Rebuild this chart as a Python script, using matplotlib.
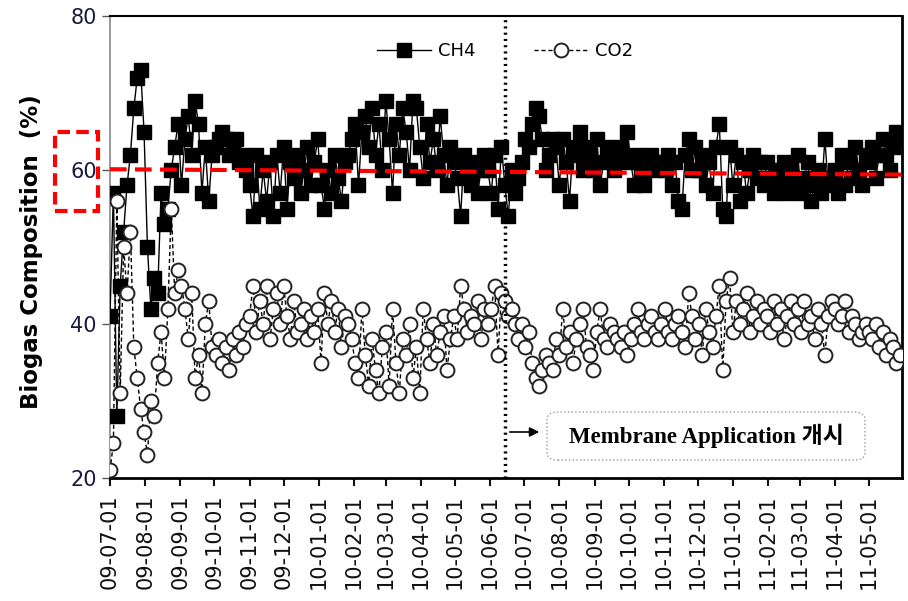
import numpy as np
import pandas as pd
import matplotlib
matplotlib.use("Agg")
import matplotlib.pyplot as plt
import matplotlib.dates as mdates
from matplotlib.patches import FancyBboxPatch, Rectangle

# sampling every 3 days from 2009-07-01
dates = pd.date_range("2009-07-01", periods=233, freq="3D")

# CH4 (%), month by month
ch4 = [
    41, 57, 28, 45, 52, 58, 62, 68, 72, 73,          # 09-07
    65, 50, 42, 46, 44, 57, 53, 55, 60, 63, 66,      # 09-08
    58, 64, 67, 62, 69, 66, 57, 63, 56, 62,          # 09-09
    63, 64, 65, 64, 62, 63, 64, 61, 62, 60,          # 09-10
    58, 54, 62, 55, 60, 56, 61, 54, 62, 57,          # 09-11
    63, 55, 61, 59, 62, 57, 60, 63, 58, 61,          # 09-12
    64, 58, 55, 60, 57, 62, 59, 56, 61, 62,          # 10-01
    64, 66, 58, 65, 67, 63, 68, 62, 66, 60,          # 10-02
    69, 64, 57, 66, 62, 68, 65, 60, 69,              # 10-03
    68, 63, 59, 66, 61, 64, 60, 67, 62, 58, 63,      # 10-04
    61, 59, 54, 62, 60, 58, 61, 57, 60, 62,          # 10-05
    60, 57, 62, 55, 63, 58, 54, 60, 57, 59,          # 10-06
    61, 64, 63, 66, 68, 67, 64, 60, 62, 64,          # 10-07
    63, 58, 64, 61, 56, 63, 62, 65, 60, 63,          # 10-08
    62, 60, 64, 58, 61, 63, 62, 60, 61, 63, 62,      # 10-09
    65, 61, 58, 62, 60, 58, 61, 62, 60, 61,          # 10-10
    61, 60, 62, 58, 61, 56, 55, 62, 64, 60,          # 10-11
    63, 60, 62, 58, 61, 57, 63, 66, 55, 54,          # 10-12
    63, 58, 62, 56, 61, 57, 60, 62, 59, 61, 58,      # 11-01
    61, 59, 57, 60, 58, 61, 57, 60, 58,              # 11-02
    62, 57, 59, 61, 56, 58, 60, 57, 64, 58, 59,      # 11-03
    60, 57, 62, 58, 61, 59, 63, 60, 58, 62,          # 11-04
    61, 63, 59, 62, 64, 62, 60, 63, 65, 64,          # 11-05
]

# CO2 (%), month by month
co2 = [
    21, 24.5, 56, 31, 50, 44, 52, 37, 33, 29,        # 09-07
    26, 23, 30, 28, 35, 39, 33, 42, 55, 44, 47,      # 09-08
    45, 42, 38, 44, 33, 36, 31, 40, 43, 37,          # 09-09
    36, 38, 35, 37, 34, 38, 36, 39, 37, 40,          # 09-10
    41, 45, 39, 43, 40, 45, 38, 42, 44, 40,          # 09-11
    45, 41, 38, 43, 39, 40, 42, 38, 41, 39,          # 09-12
    42, 35, 44, 40, 43, 39, 42, 37, 41, 40,          # 10-01
    38, 35, 33, 42, 36, 32, 38, 34, 31, 37,          # 10-02
    39, 32, 42, 35, 31, 38, 36, 40, 33,              # 10-03
    37, 31, 42, 38, 35, 40, 36, 39, 41, 34, 38,      # 10-04
    41, 38, 45, 42, 39, 41, 40, 43, 38, 42,          # 10-05
    40, 42, 45, 36, 44, 43, 41, 42, 40, 38,          # 10-06
    40, 37, 39, 35, 33, 32, 34, 36, 35, 34,          # 10-07
    38, 36, 42, 37, 39, 35, 38, 40, 42, 37,          # 10-08
    36, 34, 39, 42, 38, 37, 40, 39, 38, 37, 39,      # 10-09
    36, 38, 40, 42, 39, 38, 40, 41, 39, 38,          # 10-10
    40, 42, 39, 38, 40, 41, 39, 37, 44, 41,          # 10-11
    38, 40, 36, 42, 39, 37, 41, 45, 34, 43,          # 10-12
    46, 39, 43, 40, 42, 44, 39, 41, 43, 40, 42,      # 11-01
    41, 39, 43, 40, 42, 38, 41, 43, 40,              # 11-02
    42, 39, 43, 40, 41, 38, 42, 40, 36, 41, 43,      # 11-03
    42, 40, 41, 43, 39, 41, 40, 38, 39, 40,          # 11-04
    39, 38, 40, 37, 39, 36, 38, 37, 35, 36,          # 11-05
]

membrane_date = pd.Timestamp("2010-06-14")
ref_start, ref_end = 60.1, 59.4

fig = plt.figure(figsize=(9.08, 6.01), dpi=100)
ax = fig.add_axes([110 / 908, 1 - 478 / 601, 792 / 908, 462 / 601])

ax.plot(dates, ch4, color="black", lw=1, marker="s", ms=10.5,
        mfc="black", mec="black", label="CH4", zorder=3)
ax.plot(dates, co2, color="black", lw=1, ls=(0, (3, 2)), marker="o", ms=10,
        mfc="white", mec="#222222", mew=1.4, label="CO2", zorder=4)

x0, x1 = pd.Timestamp("2009-07-01"), pd.Timestamp("2011-05-30")
ax.plot([x0, x1], [ref_start, ref_end], color="red", lw=3, ls=(0, (4, 2)), zorder=5)
ax.axvline(membrane_date, color="black", lw=2.5, ls=(0, (0.6, 1.2)), zorder=6)

ax.set_xlim(x0, x1)
ax.set_ylim(20, 80)
ax.set_yticks([20, 40, 60, 80])
ax.xaxis.set_major_locator(mdates.MonthLocator())
ax.xaxis.set_major_formatter(mdates.DateFormatter("%y-%m-%d"))
ax.tick_params(axis="x", rotation=90, labelsize=15, length=6, width=1.5,
               direction="out", colors="#111111", pad=6)
ax.tick_params(axis="y", labelsize=15, length=6, width=1, direction="out",
               labelcolor="#1a1a40", color="#555555")

ax.spines["left"].set_color("#888888")
ax.spines["left"].set_linewidth(1.2)
ax.spines["bottom"].set_linewidth(2)
ax.spines["top"].set_linewidth(1.5)
ax.spines["right"].set_linewidth(2)

fig.text(32 / 908, 1 - 252 / 601, "Biogas Composition  (%)", rotation=90,
         fontsize=16.5, fontweight="bold", ha="center", va="center")

ax.legend(loc="center left", bbox_to_anchor=(368 / 908, 1 - 51 / 601),
          bbox_transform=fig.transFigure, ncol=2, frameon=False, fontsize=13,
          borderpad=0, handlelength=3.0, handletextpad=0.4, columnspacing=3.2)

# red dashed box around the 60 label
fig.patches.append(Rectangle((55 / 908, 1 - 211 / 601), 43 / 908, 79 / 601,
                             transform=fig.transFigure, fill=False,
                             edgecolor="red", lw=3, ls=(0, (3, 1.5))))

# annotation box
fig.patches.append(FancyBboxPatch((547 / 908, 1 - 460 / 601), 318 / 908, 48 / 601,
                                  boxstyle="round,pad=0,rounding_size=0.012",
                                  transform=fig.transFigure, fill=False,
                                  edgecolor="#999999", lw=1, ls=":"))
fig.text(706 / 908, 1 - 436 / 601, "Membrane Application 개시",
         family=["Liberation Serif", "Noto Sans CJK KR"], fontweight="bold",
         fontsize=16.5, ha="center", va="center")
ax.annotate("", xy=(542 / 908, 1 - 432 / 601), xytext=(507 / 908, 1 - 432 / 601),
            xycoords="figure fraction", textcoords="figure fraction",
            arrowprops=dict(arrowstyle="-|>", color="black", lw=1.2,
                            mutation_scale=14))

fig.savefig("out.png", dpi=100)
